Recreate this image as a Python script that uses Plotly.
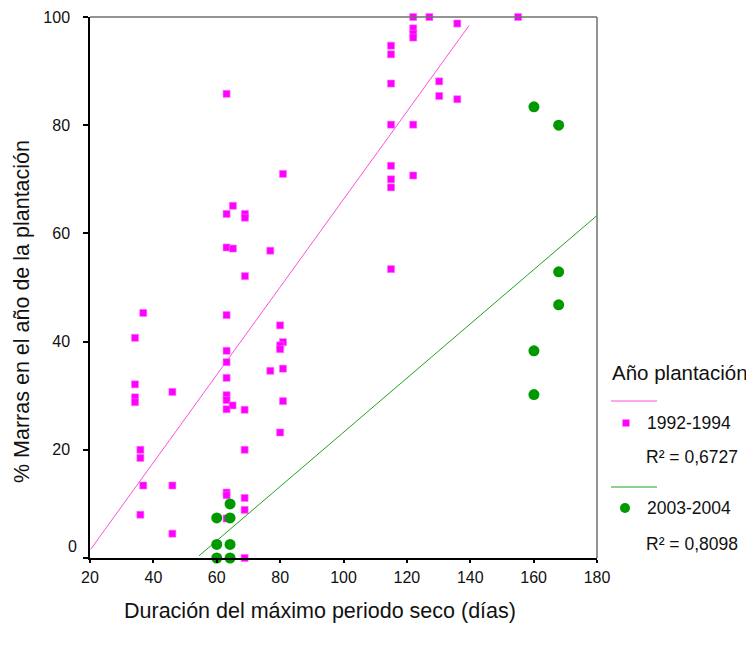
import plotly.graph_objects as go

# ---------------- data ----------------
x_9294 = [63.1, 80.9, 65.1, 63.1, 68.9, 68.9, 63.1, 65.1, 76.9, 68.9,
          36.8, 34.2, 63.1, 80.0, 80.9, 80.0, 80.0, 63.1, 63.1, 76.9,
          80.9, 63.1, 34.2, 46.0, 34.2, 34.2, 63.1, 63.1, 65.0, 63.1,
          68.8, 80.9, 80.0, 35.9, 35.9, 68.8, 36.8, 46.0, 63.1, 63.1,
          68.8, 68.8, 63.1, 35.9, 46.0, 68.8,
          122.0, 127.1, 155.1, 135.9, 122.0, 122.0, 122.0, 115.0, 115.0, 115.0,
          130.2, 130.2, 135.9, 115.0, 122.0, 115.0, 122.0, 115.0, 115.0, 115.0]
y_9294 = [85.8, 71.0, 65.1, 63.6, 63.6, 62.9, 57.4, 57.2, 56.8, 52.1,
          45.3, 40.7, 44.9, 43.0, 39.9, 39.3, 38.6, 38.3, 36.2, 34.6,
          35.0, 33.3, 32.1, 30.7, 29.7, 28.8, 30.1, 29.2, 28.2, 27.5,
          27.4, 29.0, 23.2, 20.0, 18.5, 20.0, 13.4, 13.4, 12.1, 11.6,
          11.1, 8.9, 7.3, 8.0, 4.5, 0.0,
          100.0, 100.0, 100.0, 98.8, 97.9, 96.9, 96.2, 94.7, 93.1, 87.7,
          88.1, 85.4, 84.8, 80.1, 80.1, 72.5, 70.7, 70.0, 68.5, 53.4]

x_0304 = [160.1, 167.9, 167.9, 167.9, 160.1, 160.1, 64.2, 60.0, 64.2, 60.0, 64.2, 60.0, 64.2]
y_0304 = [83.4, 80.0, 52.9, 46.8, 38.3, 30.2, 10.0, 7.4, 7.4, 2.5, 2.5, 0.0, 0.0]

# fit-line endpoints
fit_9294_x = [20.2, 139.6]
fit_9294_y = [1.6, 98.4]
fit_0304_x = [54.4, 180.0]
fit_0304_y = [0.4, 63.3]

x_ticks = [20, 40, 60, 80, 100, 120, 140, 160, 180]
y_ticks = [0, 20, 40, 60, 80, 100]
y_ticktext = ["", "20", "40", "60", "80", "100"]

series_names = ["1992-1994", "2003-2004"]
r2_labels = ["R² = 0,6727", "R² = 0,8098"]
legend_title = "Año plantación"
x_title = "Duración del máximo periodo seco (días)"
y_title = "% Marras en el año de la plantación"

# ---------------- styling ----------------
FONT = "Liberation Sans, Arial, sans-serif"
PINK = "#ff00ff"
PINK_LINE = "#ff50d8"
GREEN = "#009900"
GREEN_LINE = "#22a022"

OFF = 8                        # page offset of the plot div (body margin)
W, H = 754 - OFF, 653 - OFF
L, R, T, B = 90 - OFF, 597 - OFF, 17 - OFF, 558 - OFF   # plot box in figure px


def px(xp):                    # page pixel -> paper x
    return (xp - OFF - L) / (R - L)


def py(yp):                    # page pixel -> paper y
    return (B - (yp - OFF)) / (B - T)


fig = go.Figure()

fig.add_trace(go.Scatter(x=fit_9294_x, y=fit_9294_y, mode="lines",
                         line=dict(color=PINK_LINE, width=1), hoverinfo="skip"))
fig.add_trace(go.Scatter(x=fit_0304_x, y=fit_0304_y, mode="lines",
                         line=dict(color=GREEN_LINE, width=1), hoverinfo="skip"))
fig.add_trace(go.Scatter(x=x_9294, y=y_9294, mode="markers", name=series_names[0],
                         marker=dict(symbol="square", size=7, color=PINK,
                                     line=dict(width=0.6, color="#ff66ff")),
                         cliponaxis=False))
fig.add_trace(go.Scatter(x=x_0304, y=y_0304, mode="markers", name=series_names[1],
                         marker=dict(symbol="circle", size=11, color=GREEN,
                                     line=dict(width=0)),
                         cliponaxis=False))

shapes = [
    # top & right frame (gray)
    dict(type="line", xref="paper", yref="paper", x0=0, x1=1, y0=1, y1=1,
         line=dict(color="#707070", width=1.5)),
    dict(type="line", xref="paper", yref="paper", x0=1, x1=1, y0=0, y1=1,
         line=dict(color="#707070", width=1.5)),
    # legend lines
    dict(type="line", xref="paper", yref="paper", x0=px(611), x1=px(657),
         y0=py(401), y1=py(401), line=dict(color=PINK_LINE, width=1.2)),
    dict(type="line", xref="paper", yref="paper", x0=px(611), x1=px(657),
         y0=py(487), y1=py(487), line=dict(color=GREEN_LINE, width=1.2)),
    # legend markers
    dict(type="rect", xref="paper", yref="paper", x0=px(622.5), x1=px(629.5),
         y0=py(426.5), y1=py(419.5), fillcolor=PINK, line=dict(width=0)),
    dict(type="circle", xref="paper", yref="paper", x0=px(620), x1=px(630),
         y0=py(513), y1=py(503), fillcolor=GREEN, line=dict(width=0)),
]


def ann(text, x, y, size, xanchor="left", angle=0):
    return dict(text=text, xref="paper", yref="paper", x=px(x), y=py(y),
                xanchor=xanchor, yanchor="middle", showarrow=False,
                textangle=angle, font=dict(family=FONT, size=size, color="#111111"))


annotations = [
    ann(x_title, 320, 611, 21.5, "center"),
    ann(y_title, 22, 312, 21.5, "center", -90),
    ann("0", 79, 546, 16, "right"),
    ann(legend_title, 610, 372, 20.5),
    ann(series_names[0], 645, 423, 17.5),
    ann(r2_labels[0], 644, 457, 17.5),
    ann(series_names[1], 645, 508, 17.5),
    ann(r2_labels[1], 644, 544, 17.5),
]

fig.update_layout(
    width=W, height=H,
    margin=dict(l=L, r=W - R, t=T, b=H - B, pad=0, autoexpand=False),
    paper_bgcolor="white", plot_bgcolor="white",
    showlegend=False,
    font=dict(family=FONT, size=16, color="#111111"),
    shapes=shapes, annotations=annotations,
    xaxis=dict(range=[20, 180], tickvals=x_ticks, ticks="outside", ticklen=3,
               tickwidth=1.5, tickcolor="black", showline=True, linecolor="black",
               linewidth=1.5, showgrid=False, zeroline=False, automargin=False,
               tickfont=dict(family=FONT, size=16, color="#111111"),
               ticklabelstandoff=1),
    yaxis=dict(range=[0, 100], tickvals=y_ticks, ticktext=y_ticktext,
               ticks="outside", ticklen=5, tickwidth=1.5, tickcolor="black",
               showline=True, linecolor="black", linewidth=1.5, showgrid=False,
               zeroline=False, automargin=False,
               tickfont=dict(family=FONT, size=16, color="#111111"),
               ticklabelstandoff=10),
)

fig.write_html("out.html")
